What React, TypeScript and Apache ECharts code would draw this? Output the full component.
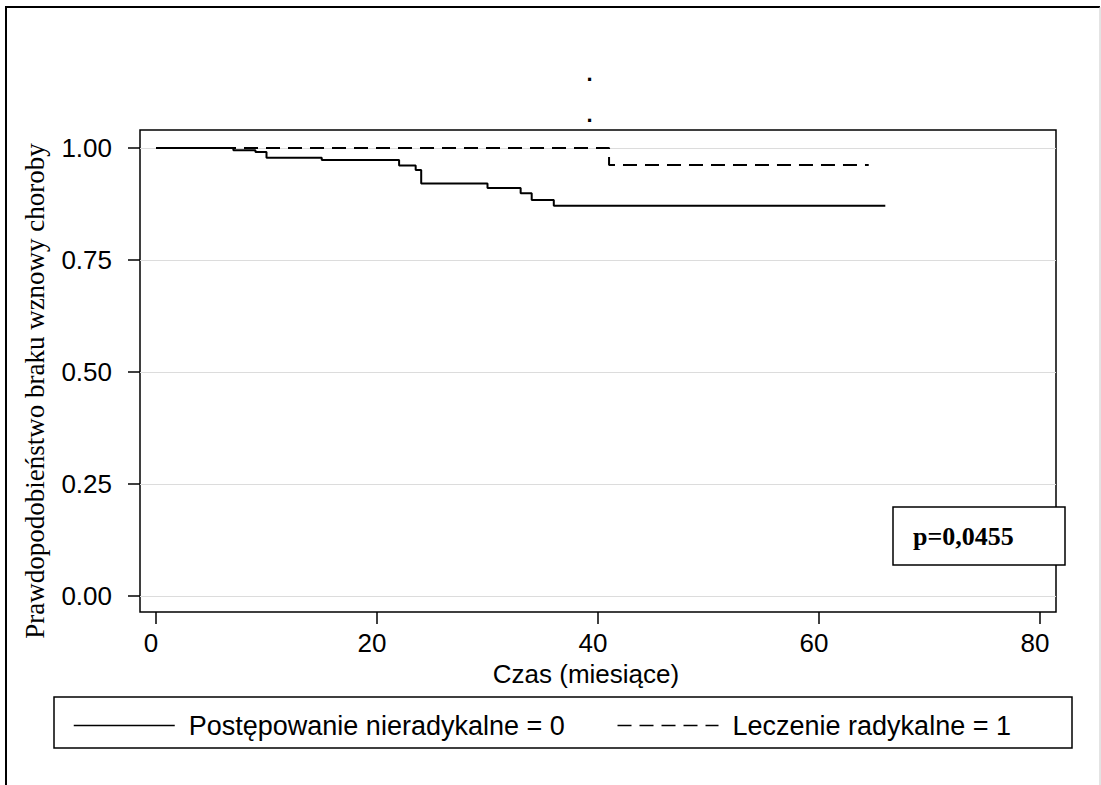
import React, { useEffect, useRef } from "react";
import * as echarts from "echarts";

// Axis ticks
const xTicks = [0, 20, 40, 60, 80];
const yTicks = [0, 0.25, 0.5, 0.75, 1];

// Kaplan–Meier estimates: event times (months) and survival after each step
const nonRadicalTimes = [0, 7, 9, 10, 15, 22, 23.5, 24, 30, 33, 34, 36, 66];
const nonRadicalSurvival = [1, 0.995, 0.991, 0.978, 0.973, 0.961, 0.951, 0.921, 0.911, 0.899, 0.884, 0.871, 0.871];
const radicalTimes = [0, 41, 64.5];
const radicalSurvival = [1, 0.962, 0.962];

const seriesNames = ["Postępowanie nieradykalne = 0", "Leczenie radykalne = 1"];
const xTitle = "Czas (miesiące)";
const yTitle = "Prawdopodobieństwo braku wznowy choroby";
const pValueText = "p=0,0455";
const titleMarks = [".", "."];

const SANS = "'Liberation Sans', Arial, Helvetica, sans-serif";
const SERIF = "'Liberation Serif', 'Times New Roman', Times, serif";

const pairs = (xs: number[], ys: number[]) => xs.map((x, i) => [x, ys[i]]);

function buildOption() {
  const tickLine = { color: "#000", width: 1.5 };
  const labelBase = { fontSize: 26, color: "#000", fontFamily: SANS };
  return {
    animation: false,
    backgroundColor: "#fff",
    grid: {
      left: 140,
      top: 130,
      width: 916,
      height: 482,
      show: true,
      borderColor: "#000",
      borderWidth: 1.5,
      backgroundColor: "transparent",
      containLabel: false,
    },
    xAxis: {
      type: "value",
      min: -1.448,
      max: 81.448,
      axisLine: { show: false, onZero: false },
      axisTick: { show: true, inside: false, length: 12, customValues: xTicks, lineStyle: tickLine },
      axisLabel: { ...labelBase, customValues: xTicks, margin: 18, padding: [0, 10, 0, 0] },
      splitLine: { show: false },
    },
    yAxis: {
      type: "value",
      min: -0.0357,
      max: 1.0402,
      axisLine: { show: false, onZero: false },
      axisTick: { show: true, inside: false, length: 12, customValues: yTicks, lineStyle: tickLine },
      axisLabel: {
        ...labelBase,
        customValues: yTicks,
        margin: 28,
        formatter: (v: number) => v.toFixed(2),
      },
      splitLine: { show: true, lineStyle: { color: "#dcdcdc", width: 1 } },
    },
    legend: {
      data: seriesNames,
      left: 73,
      top: 712,
      padding: 0,
      itemWidth: 101,
      itemHeight: 14,
      itemGap: 52,
      lineStyle: { width: 1.5 },
      itemStyle: { color: "rgba(0,0,0,0)", borderColor: "rgba(0,0,0,0)", borderWidth: 0, opacity: 0 },
      textStyle: { ...labelBase, fontSize: 27, padding: [0, 0, 0, 9] },
    },
    series: [
      {
        name: seriesNames[0],
        type: "line",
        step: "end",
        symbol: "none",
        data: pairs(nonRadicalTimes, nonRadicalSurvival),
        lineStyle: { color: "#000", width: 2, type: "solid" },
        itemStyle: { color: "#000" },
        z: 3,
      },
      {
        name: seriesNames[1],
        type: "line",
        step: "end",
        symbol: "none",
        data: pairs(radicalTimes, radicalSurvival),
        lineStyle: { color: "#000", width: 2, type: [14, 8] },
        itemStyle: { color: "#000" },
        z: 4,
      },
    ],
    graphic: [
      // outer frame
      {
        type: "polyline",
        silent: true,
        shape: { points: [[6, 790], [6, 7], [1100, 7]] },
        style: { stroke: "#000", lineWidth: 2, fill: "none" },
      },
      {
        type: "line",
        silent: true,
        shape: { x1: 1100, y1: 7, x2: 1100, y2: 790 },
        style: { stroke: "#c8c8c8", lineWidth: 1 },
      },
      // title marks
      ...titleMarks.map((t, i) => ({
        type: "text",
        silent: true,
        x: 589.5,
        y: i === 0 ? 73 : 114,
        style: { text: t, fontSize: 22, fontWeight: "bold", fill: "#000", fontFamily: SANS, align: "center", verticalAlign: "middle" },
      })),
      // axis titles
      {
        type: "text",
        silent: true,
        x: 586,
        y: 674,
        style: { text: xTitle, ...labelBase, fill: "#000", align: "center", verticalAlign: "middle" },
      },
      {
        type: "text",
        silent: true,
        x: 35,
        y: 391,
        rotation: Math.PI / 2,
        style: { text: yTitle, fontSize: 27, fontFamily: SERIF, fill: "#000", align: "center", verticalAlign: "middle" },
      },
      // legend frame
      {
        type: "rect",
        silent: true,
        shape: { x: 54, y: 697, width: 1018, height: 51 },
        style: { stroke: "#000", lineWidth: 1.5, fill: "none" },
      },
      // p-value box
      {
        type: "group",
        silent: true,
        z: 10,
        children: [
          {
            type: "rect",
            shape: { x: 893, y: 507, width: 172, height: 58 },
            style: { stroke: "#000", lineWidth: 1.5, fill: "#fff" },
          },
          {
            type: "text",
            x: 913,
            y: 536,
            style: { text: pValueText, fontSize: 26, fontWeight: "bold", fontFamily: SERIF, fill: "#000", align: "left", verticalAlign: "middle" },
          },
        ],
      },
    ],
  };
}

export default function App() {
  const ref = useRef<HTMLDivElement>(null);
  useEffect(() => {
    document.body.style.margin = "0";
    const chart = echarts.init(ref.current!, null, { renderer: "svg" });
    chart.setOption(buildOption() as any);
    return () => chart.dispose();
  }, []);
  return <div ref={ref} style={{ width: 1101, height: 785 }} />;
}
